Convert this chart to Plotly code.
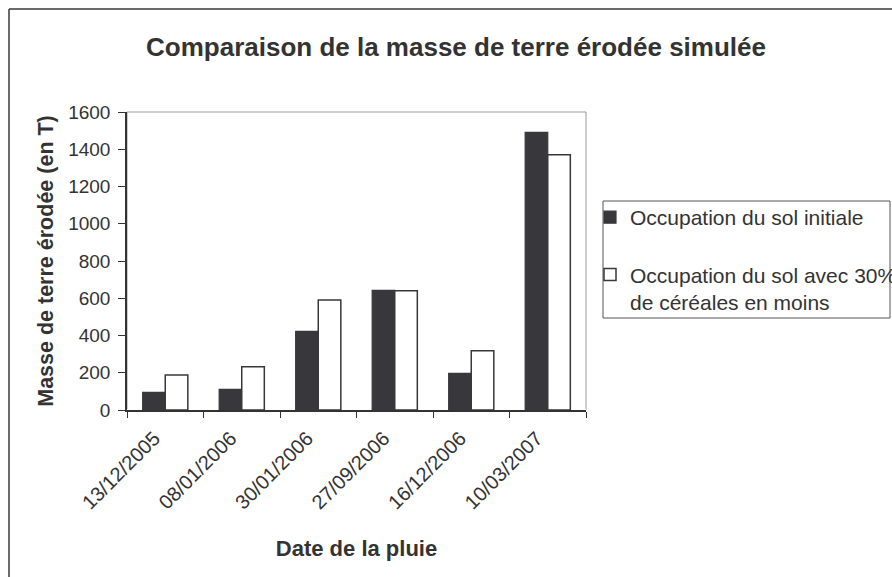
import plotly.graph_objects as go

# Rain event dates and simulated eroded soil mass (tonnes)
dates = ["13/12/2005", "08/01/2006", "30/01/2006", "27/09/2006", "16/12/2006", "10/03/2007"]
initiale = [95, 111, 422, 642, 197, 1491]
moins_cereales = [188, 232, 590, 640, 318, 1371]

series_names = [
    "Occupation du sol initiale",
    "Occupation du sol avec 30%<br>de céréales en moins",
]

W, H = 892, 577
L, R, T, B = 127, 306, 112, 167
PW, PH = W - L - R, H - T - B

def px_x(px):
    return (px - L) / PW

def px_y(py):
    return (H - B - py) / PH

DARK = "#38373b"
TEXT = "#333333"
FONT = "Liberation Sans, Arial, sans-serif"

fig = go.Figure()
fig.add_trace(go.Bar(
    x=dates, y=initiale, name=series_names[0], legendgroup="a",
    marker=dict(color=DARK, line=dict(color=DARK, width=1.2)),
))
fig.add_trace(go.Bar(
    x=dates, y=moins_cereales, name=series_names[1], legendgroup="b",
    marker=dict(color="white", line=dict(color=DARK, width=1.5)),
))

shapes = [
    # plot-area frame (light grey on top/right)
    dict(type="rect", xref="paper", yref="paper", x0=0, x1=1, y0=0, y1=1,
         line=dict(color="#9a9a9a", width=1), layer="below"),
    # outer chart border (left and top edges visible)
    dict(type="line", xref="paper", yref="paper",
         x0=px_x(9), x1=px_x(9), y0=px_y(9), y1=px_y(600),
         line=dict(color="#3a3a3a", width=1.5)),
    dict(type="line", xref="paper", yref="paper",
         x0=px_x(9), x1=px_x(900), y0=px_y(9), y1=px_y(9),
         line=dict(color="#3a3a3a", width=1.5)),
    # legend box
    dict(type="rect", xref="paper", yref="paper",
         x0=px_x(603), x1=px_x(890), y0=px_y(318), y1=px_y(201),
         line=dict(color="#555555", width=1)),
]

fig.update_layout(
    width=W, height=H,
    margin=dict(l=L, r=R, t=T, b=B, autoexpand=False),
    paper_bgcolor="white", plot_bgcolor="white",
    font=dict(family=FONT, color=TEXT, size=19),
    barmode="group", bargap=0.41, bargroupgap=0,
    title=dict(
        text="<b>Comparaison de la masse de terre érodée simulée</b>",
        x=456 / W, xanchor="center",
        y=1 - 47 / H, yanchor="middle",
        font=dict(size=26, color=TEXT, family=FONT),
    ),
    xaxis=dict(
        type="category", tickson="boundaries", ticks="outside", ticklen=6,
        tickcolor="#333", tickwidth=1, tickangle=-45,
        ticklabelstandoff=7, ticklabelshift=-11,
        showline=True, linecolor="#333", linewidth=1.5, showgrid=False,
        tickfont=dict(size=20, color=TEXT),
        title=dict(text="<b>Date de la pluie</b>", font=dict(size=22, color=TEXT), standoff=28),
    ),
    yaxis=dict(
        range=[0, 1600], dtick=200, ticks="outside", ticklen=7,
        tickcolor="#333", tickwidth=1,
        showline=True, linecolor="#333", linewidth=1.5, showgrid=False,
        tickfont=dict(size=19, color=TEXT), ticklabelstandoff=4,
        title=dict(text="<b>Masse de terre érodée (en T)</b>", font=dict(size=21.5, color=TEXT), standoff=9),
    ),
    legend=dict(
        x=px_x(590), xanchor="left", y=px_y(197), yanchor="top",
        bgcolor="rgba(0,0,0,0)", borderwidth=0,
        traceorder="grouped", tracegroupgap=27, valign="top",
        font=dict(size=21, color=TEXT),
    ),
    shapes=shapes,
)

fig.write_html("out.html")
